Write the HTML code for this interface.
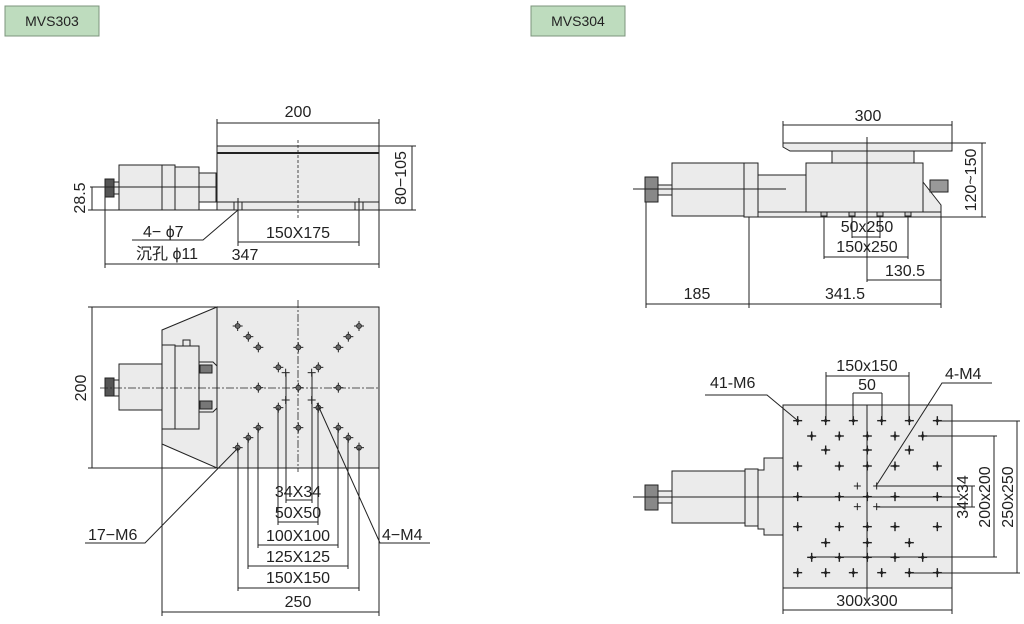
<!DOCTYPE html>
<html><head><meta charset="utf-8"><style>
html,body{margin:0;padding:0;background:#fff}
svg{display:block}
text{font-family:"Liberation Sans","Noto Sans CJK SC",sans-serif;font-size:16px;fill:#222}
.l{stroke:#222;stroke-width:1;fill:none}
.g{fill:#ebebeb;stroke:#222;stroke-width:1}
.c{stroke:#222;stroke-width:0.8;stroke-dasharray:8 2 2 2;fill:none}
.d{stroke:#222;stroke-width:0.8;stroke-dasharray:3 2;fill:none}
</style></head><body>
<svg id="s" width="1024" height="624" viewBox="0 0 1024 624" xmlns="http://www.w3.org/2000/svg">
<rect x="5" y="6" width="94" height="30" fill="#bedcbe" stroke="#7c947c"/>
<text x="52" y="26" text-anchor="middle" style="font-size:14px">MVS303</text>
<rect x="531" y="6" width="94" height="30" fill="#bedcbe" stroke="#7c947c"/>
<text x="578" y="26" text-anchor="middle" style="font-size:14px">MVS304</text>

<!-- ===== MVS303 side ===== -->
<line class="l" x1="217" y1="123" x2="379" y2="123"/>
<line class="l" x1="217" y1="119" x2="217" y2="146"/>
<line class="l" x1="379" y1="119" x2="379" y2="146"/>
<text x="298" y="117" text-anchor="middle">200</text>
<rect class="g" x="217" y="146" width="162" height="56"/>
<line x1="217" y1="153" x2="379" y2="153" stroke="#222" stroke-width="2"/>
<rect class="g" x="217" y="202" width="162" height="8"/>
<line class="l" x1="105" y1="210" x2="379" y2="210"/>
<rect class="g" x="119" y="165" width="43" height="45"/>
<rect class="g" x="162" y="165" width="13" height="45"/>
<rect class="g" x="175" y="167" width="24" height="43"/>
<rect class="g" x="199" y="173" width="17" height="29"/>
<rect class="g" x="114" y="182" width="5" height="12"/>
<rect x="105" y="179" width="9" height="18" fill="#555" stroke="#222"/>
<line class="l" x1="90" y1="187" x2="216" y2="187"/>
<line class="d" x1="298" y1="140" x2="298" y2="218"/>
<rect class="g" x="234" y="202" width="8" height="8"/><line class="l" x1="238" y1="198" x2="238" y2="246"/>
<rect class="g" x="355" y="202" width="8" height="8"/><line class="l" x1="359" y1="198" x2="359" y2="246"/>
<line class="l" x1="92" y1="187" x2="92" y2="210"/>
<line class="l" x1="88" y1="210" x2="105" y2="210"/>
<text transform="translate(85,198) rotate(-90)" text-anchor="middle">28.5</text>
<line class="l" x1="379" y1="146" x2="416" y2="146"/>
<line class="l" x1="379" y1="210" x2="416" y2="210"/>
<line class="l" x1="412" y1="146" x2="412" y2="210"/>
<text transform="translate(406,178) rotate(-90)" text-anchor="middle">80−105</text>
<line class="l" x1="238" y1="242" x2="359" y2="242"/>
<text x="298" y="238" text-anchor="middle">150X175</text>
<line class="l" x1="105" y1="197" x2="105" y2="268"/>
<line class="l" x1="379" y1="210" x2="379" y2="268"/>
<line class="l" x1="105" y1="264" x2="379" y2="264"/>
<text x="245" y="260" text-anchor="middle">347</text>
<polyline class="l" points="132,240 203,240 238,210"/>
<text x="143" y="237">4− ϕ7</text>
<text x="136" y="259">沉孔 ϕ11</text>

<!-- ===== MVS303 top ===== -->
<polygon class="g" points="217,307 162,330 162,444 217,468"/>
<rect class="g" x="217" y="307" width="162" height="161"/>
<line class="l" x1="88" y1="307" x2="217" y2="307"/>
<line class="l" x1="88" y1="468" x2="217" y2="468"/>
<line class="l" x1="92" y1="307" x2="92" y2="468"/>
<text transform="translate(86,388) rotate(-90)" text-anchor="middle">200</text>
<rect class="g" x="119" y="364" width="43" height="46"/>
<rect class="g" x="162" y="345" width="13" height="84"/>
<rect class="g" x="175" y="346" width="24" height="83"/>
<rect class="g" x="183" y="340" width="7" height="6"/>
<path class="g" d="M199,362 h14 l4,4 v42 l-4,4 h-14 z"/>
<rect x="200" y="365" width="12" height="8" fill="#777" stroke="#222"/>
<rect x="200" y="401" width="12" height="8" fill="#777" stroke="#222"/>
<rect class="g" x="114" y="380" width="5" height="16"/>
<rect x="105" y="378" width="9" height="18" fill="#555" stroke="#222"/>
<line class="c" x1="100" y1="388" x2="379" y2="388"/>
<line class="c" x1="298" y1="300" x2="298" y2="472"/>
<g id="h303"></g>
<line class="l" x1="162" y1="444" x2="162" y2="616"/>
<line class="l" x1="379" y1="468" x2="379" y2="616"/>
<g class="l">
<line x1="286" y1="500" x2="312" y2="500"/><line x1="286" y1="373" x2="286" y2="503"/><line x1="312" y1="373" x2="312" y2="503"/>
<line x1="278" y1="522" x2="318" y2="522"/><line x1="278" y1="408" x2="278" y2="525"/><line x1="318" y1="408" x2="318" y2="525"/>
<line x1="258" y1="545" x2="338" y2="545"/><line x1="258" y1="428" x2="258" y2="548"/><line x1="338" y1="428" x2="338" y2="548"/>
<line x1="248" y1="566" x2="348" y2="566"/><line x1="248" y1="438" x2="248" y2="569"/><line x1="348" y1="438" x2="348" y2="569"/>
<line x1="238" y1="588" x2="359" y2="588"/><line x1="238" y1="448" x2="238" y2="591"/><line x1="359" y1="448" x2="359" y2="591"/>
</g>
<text x="298" y="497" text-anchor="middle">34X34</text>
<text x="298" y="518" text-anchor="middle">50X50</text>
<text x="298" y="541" text-anchor="middle">100X100</text>
<text x="298" y="562" text-anchor="middle">125X125</text>
<text x="298" y="583" text-anchor="middle">150X150</text>
<line class="l" x1="162" y1="612" x2="379" y2="612"/>
<text x="298" y="607" text-anchor="middle">250</text>
<polyline class="l" points="238,448 145,543 85,543"/>
<text x="88" y="540">17−M6</text>
<polyline class="l" points="317,403 380,543 430,543"/>
<text x="382" y="540">4−M4</text>

<!-- ===== MVS304 side ===== -->
<line class="l" x1="783" y1="125" x2="952" y2="125"/>
<line class="l" x1="783" y1="121" x2="783" y2="143"/>
<line class="l" x1="952" y1="121" x2="952" y2="143"/>
<text x="868" y="121" text-anchor="middle">300</text>
<polygon class="g" points="783,143 952,143 952,151 790,151 783,147"/>
<rect class="g" x="832" y="151" width="82" height="12"/>
<polygon class="g" points="923,182 941,205 941,217 923,217"/>
<rect x="930" y="180" width="18" height="12" fill="#999" stroke="#222"/>
<rect class="g" x="806" y="163" width="117" height="49"/>
<rect class="g" x="758" y="212" width="183" height="5"/>
<rect class="g" x="758" y="175" width="48" height="37"/>
<rect class="g" x="744" y="163" width="14" height="54"/>
<rect class="g" x="672" y="163" width="72" height="53"/>
<rect class="g" x="658" y="185" width="14" height="10"/>
<rect x="645" y="177" width="13" height="25" fill="#888" stroke="#222"/>
<line class="l" x1="633" y1="189" x2="786" y2="189"/>
<line class="l" x1="867" y1="137" x2="867" y2="282"/>
<g fill="#ccc" stroke="#222"><rect x="821" y="212" width="6" height="4"/><rect x="849" y="212" width="6" height="4"/><rect x="877" y="212" width="6" height="4"/><rect x="905" y="212" width="6" height="4"/></g>
<line class="l" x1="941" y1="143" x2="986" y2="143"/>
<line class="l" x1="941" y1="217" x2="986" y2="217"/>
<line class="l" x1="982" y1="143" x2="982" y2="217"/>
<text transform="translate(976,180) rotate(-90)" text-anchor="middle">120~150</text>
<line class="l" x1="852" y1="216" x2="852" y2="238"/><line class="l" x1="880" y1="216" x2="880" y2="238"/>
<line class="l" x1="852" y1="237" x2="880" y2="237"/>
<text x="867" y="232" text-anchor="middle">50x250</text>
<line class="l" x1="824" y1="216" x2="824" y2="259"/><line class="l" x1="908" y1="216" x2="908" y2="259"/>
<line class="l" x1="824" y1="257" x2="908" y2="257"/>
<text x="867" y="252" text-anchor="middle">150x250</text>
<line class="l" x1="867" y1="280" x2="941" y2="280"/>
<text x="905" y="276" text-anchor="middle">130.5</text>
<line class="l" x1="646" y1="202" x2="646" y2="308"/>
<line class="l" x1="749" y1="217" x2="749" y2="308"/>
<line class="l" x1="941" y1="217" x2="941" y2="308"/>
<line class="l" x1="646" y1="304" x2="941" y2="304"/>
<text x="697" y="299" text-anchor="middle">185</text>
<text x="845" y="299" text-anchor="middle">341.5</text>

<!-- ===== MVS304 top ===== -->
<path class="g" d="M758,470 h6 v-12 h19 v77 h-19 v-6 h-6 z"/>
<rect class="g" x="745" y="469" width="13" height="57"/>
<rect class="g" x="672" y="471" width="73" height="52"/>
<rect class="g" x="658" y="491" width="14" height="12"/>
<rect x="645" y="485" width="13" height="25" fill="#888" stroke="#222"/>
<rect class="g" x="783" y="405" width="169" height="183"/>
<line class="l" x1="633" y1="497" x2="960" y2="497"/>
<line class="l" x1="867" y1="405" x2="867" y2="600"/>
<g id="h304"></g>
<line class="l" x1="826" y1="376" x2="909" y2="376"/>
<line class="l" x1="826" y1="372" x2="826" y2="421"/><line class="l" x1="909" y1="372" x2="909" y2="421"/>
<text x="867" y="371" text-anchor="middle">150x150</text>
<line class="l" x1="853" y1="393" x2="882" y2="393"/>
<line class="l" x1="853" y1="393" x2="853" y2="421"/><line class="l" x1="882" y1="393" x2="882" y2="421"/>
<text x="867" y="390" text-anchor="middle">50</text>
<polyline class="l" points="705,395 767,395 797,420"/>
<text x="710" y="388">41-M6</text>
<polyline class="l" points="992,383 942,383 876,486"/>
<text x="945" y="379">4-M4</text>
<line class="l" x1="877" y1="486" x2="975" y2="486"/>
<line class="l" x1="877" y1="507" x2="975" y2="507"/>
<line class="l" x1="972" y1="486" x2="972" y2="507"/>
<line class="l" x1="923" y1="436" x2="997" y2="436"/>
<line class="l" x1="812" y1="557" x2="997" y2="557"/>
<line class="l" x1="994" y1="436" x2="994" y2="557"/>
<line class="l" x1="937" y1="421" x2="1020" y2="421"/>
<line class="l" x1="907" y1="573" x2="1020" y2="573"/>
<line class="l" x1="1017" y1="421" x2="1017" y2="573"/>
<text transform="translate(968,497) rotate(-90)" text-anchor="middle">34x34</text>
<text transform="translate(990,497) rotate(-90)" text-anchor="middle">200x200</text>
<text transform="translate(1013,497) rotate(-90)" text-anchor="middle">250x250</text>
<line class="l" x1="783" y1="588" x2="783" y2="614"/>
<line class="l" x1="952" y1="588" x2="952" y2="614"/>
<line class="l" x1="783" y1="610" x2="952" y2="610"/>
<text x="867" y="606" text-anchor="middle">300x300</text>
</svg>
<script>
var NS="http://www.w3.org/2000/svg";
function el(p,t,a){var e=document.createElementNS(NS,t);for(var k in a)e.setAttribute(k,a[k]);p.appendChild(e);return e;}
var g=document.getElementById("h303");
var m6=[[533,108],[565,140],[595,172],[715,172],[835,172],[865,140],[897,108],[655,232],[775,232],[595,293],[715,293],[835,293],[655,353],[775,353],[595,413],[715,413],[835,413],[565,443],[865,443],[533,473],[897,473]];
m6.forEach(function(p){var x=60+p[0]/3,y=290+p[1]/3;
 el(g,"line",{x1:x-5,y1:y,x2:x+5,y2:y,stroke:"#222","stroke-width":1});
 el(g,"line",{x1:x,y1:y-5,x2:x,y2:y+5,stroke:"#222","stroke-width":1});
 el(g,"circle",{cx:x,cy:y,r:2.5,fill:"#666",stroke:"#222","stroke-width":0.8});});
[[677,248],[755,248],[677,330],[755,330]].forEach(function(p){var x=60+p[0]/3,y=290+p[1]/3;
 el(g,"line",{x1:x-4,y1:y,x2:x+4,y2:y,stroke:"#222"});el(g,"line",{x1:x,y1:y-4,x2:x,y2:y+4,stroke:"#222"});});
var h=document.getElementById("h304");
var rows={212:[533,617,700,785,868,952],258:[575,658,742,825,908],300:[617,742,868],348:[533,658,742,825,952],440:[533,658,742,825,952],530:[533,658,742,825,952],578:[617,742,868],622:[575,658,742,825,908],668:[533,617,700,785,868,952]};
for(var r in rows){rows[r].forEach(function(px){var x=620+px/3,y=350+Number(r)/3;
 el(h,"line",{x1:x-4.5,y1:y,x2:x+4.5,y2:y,stroke:"#222","stroke-width":1.4});
 el(h,"line",{x1:x,y1:y-4.5,x2:x,y2:y+4.5,stroke:"#222","stroke-width":1.4});
 el(h,"circle",{cx:x,cy:y,r:1.6,fill:"#222"});});}
[[712,408],[770,408],[712,470],[770,470]].forEach(function(p){var x=620+p[0]/3,y=350+p[1]/3;
 el(h,"line",{x1:x-3.5,y1:y,x2:x+3.5,y2:y,stroke:"#222"});el(h,"line",{x1:x,y1:y-3.5,x2:x,y2:y+3.5,stroke:"#222"});});
</script>
</body></html>
